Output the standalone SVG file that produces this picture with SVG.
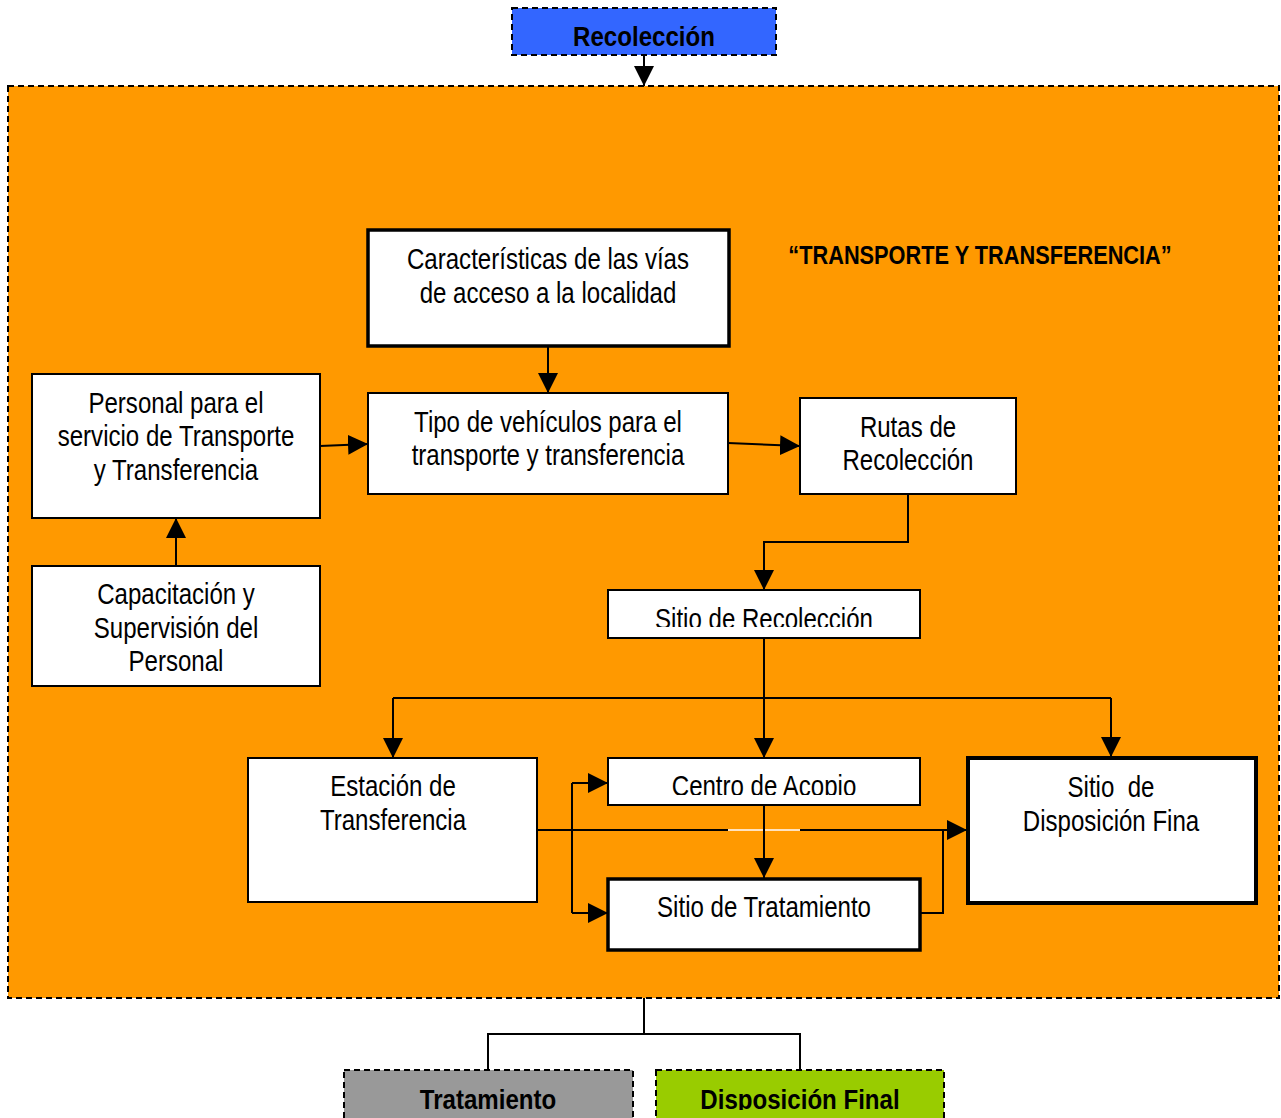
<svg xmlns="http://www.w3.org/2000/svg" width="1281" height="1118" viewBox="0 0 1281 1118">
<style>
.t{font-family:"Liberation Sans",Arial,sans-serif;font-size:29px;fill:#000;text-anchor:middle}
.b{font-family:"Liberation Sans",Arial,sans-serif;font-weight:bold;font-size:28px;fill:#000;text-anchor:middle}
.box{fill:#fff;stroke:#000;stroke-width:2}
.dash{stroke:#000;stroke-width:2;stroke-dasharray:6 4}
.c{fill:none;stroke:#000;stroke-width:2}
</style>
<defs>
<marker id="ah" markerUnits="userSpaceOnUse" markerWidth="20" markerHeight="20" refX="20" refY="10" orient="auto">
<path d="M0,0 L20,10 L0,20 z" fill="#000"/>
</marker>
<clipPath id="clipSR"><rect x="600" y="585" width="330" height="42"/></clipPath>
<clipPath id="clipCA"><rect x="600" y="750" width="330" height="45"/></clipPath>
<clipPath id="clipBot"><rect x="300" y="1060" width="700" height="50"/></clipPath>
</defs>

<g id="recoleccion">
<rect x="512" y="8" width="264" height="47" fill="#3366FF" class="dash"/>
<text class="b" transform="translate(644,46) scale(0.86,1)">Recolección</text>
</g>

<g id="area">
<rect x="8" y="86" width="1271" height="912" fill="#FF9900" class="dash"/>
<text class="b" transform="translate(980,264) scale(0.87,1)" style="font-size:25px">“TRANSPORTE Y TRANSFERENCIA”</text>
</g>

<g id="connectors">
<line class="c" x1="644" y1="55" x2="644" y2="86" marker-end="url(#ah)"/>
<line class="c" x1="548" y1="346" x2="548" y2="393" marker-end="url(#ah)"/>
<line class="c" x1="320" y1="446" x2="368" y2="444" marker-end="url(#ah)"/>
<line class="c" x1="176" y1="566" x2="176" y2="518" marker-end="url(#ah)"/>
<line class="c" x1="728" y1="443" x2="800" y2="446" marker-end="url(#ah)"/>
<polyline class="c" points="908,494 908,542 764,542 764,590" marker-end="url(#ah)"/>
<line class="c" x1="764" y1="638" x2="764" y2="758" marker-end="url(#ah)"/>
<line class="c" x1="393" y1="698" x2="1111" y2="698"/>
<line class="c" x1="393" y1="698" x2="393" y2="758" marker-end="url(#ah)"/>
<line class="c" x1="1111" y1="698" x2="1111" y2="757" marker-end="url(#ah)"/>
<line class="c" x1="537" y1="830" x2="728" y2="830"/>
<line x1="728" y1="830" x2="800" y2="830" stroke="#FFE2BF" stroke-width="2"/>
<line class="c" x1="800" y1="830" x2="967" y2="830" marker-end="url(#ah)"/>
<line class="c" x1="572" y1="783" x2="572" y2="913"/>
<line class="c" x1="572" y1="783" x2="608" y2="783" marker-end="url(#ah)"/>
<line class="c" x1="572" y1="913" x2="608" y2="913" marker-end="url(#ah)"/>
<line class="c" x1="764" y1="805" x2="764" y2="878" marker-end="url(#ah)"/>
<polyline class="c" points="920,913 943,913 943,830"/>
<line class="c" x1="644" y1="998" x2="644" y2="1034"/>
<polyline class="c" points="488,1070 488,1034 800,1034 800,1070"/>
</g>

<g id="caracteristicas">
<rect x="368" y="230" width="361" height="116" class="box" style="stroke-width:3.5"/>
<text class="t" transform="translate(548,269) scale(0.83,1)">Características de las vías</text>
<text class="t" transform="translate(548,303) scale(0.83,1)">de acceso a la localidad</text>
</g>

<g id="tipo">
<rect x="368" y="393" width="360" height="101" class="box"/>
<text class="t" transform="translate(548,432) scale(0.83,1)">Tipo de vehículos para el</text>
<text class="t" transform="translate(548,465) scale(0.83,1)">transporte y transferencia</text>
</g>

<g id="personal">
<rect x="32" y="374" width="288" height="144" class="box"/>
<text class="t" transform="translate(176,413) scale(0.83,1)">Personal para el</text>
<text class="t" transform="translate(176,446) scale(0.83,1)">servicio de Transporte</text>
<text class="t" transform="translate(176,480) scale(0.83,1)">y Transferencia</text>
</g>

<g id="capacitacion">
<rect x="32" y="566" width="288" height="120" class="box"/>
<text class="t" transform="translate(176,604) scale(0.83,1)">Capacitación y</text>
<text class="t" transform="translate(176,638) scale(0.83,1)">Supervisión del</text>
<text class="t" transform="translate(176,671) scale(0.83,1)">Personal</text>
</g>

<g id="rutas">
<rect x="800" y="398" width="216" height="96" class="box"/>
<text class="t" transform="translate(908,437) scale(0.83,1)">Rutas de</text>
<text class="t" transform="translate(908,470) scale(0.83,1)">Recolección</text>
</g>

<g id="sitio-recoleccion">
<rect x="608" y="590" width="312" height="48" class="box"/>
<g clip-path="url(#clipSR)"><text class="t" transform="translate(764,629) scale(0.83,1)">Sitio de Recolección</text></g>
</g>

<g id="estacion">
<rect x="248" y="758" width="289" height="144" class="box"/>
<text class="t" transform="translate(393,796) scale(0.83,1)">Estación de</text>
<text class="t" transform="translate(393,830) scale(0.83,1)">Transferencia</text>
</g>

<g id="centro">
<rect x="608" y="758" width="312" height="47" class="box"/>
<g clip-path="url(#clipCA)"><text class="t" transform="translate(764,796) scale(0.83,1)">Centro de Acopio</text></g>
</g>

<g id="disposicion-sitio">
<rect x="968" y="758" width="288" height="145" class="box" style="stroke-width:4"/>
<text class="t" transform="translate(1111,797) scale(0.83,1)" xml:space="preserve">Sitio  de</text>
<text class="t" transform="translate(1111,831) scale(0.83,1)">Disposición Fina</text>
</g>

<g id="tratamiento-sitio">
<rect x="608" y="879" width="312" height="71" class="box" style="stroke-width:3.5"/>
<text class="t" transform="translate(764,917) scale(0.83,1)">Sitio de Tratamiento</text>
</g>

<g id="tratamiento">
<rect x="344" y="1070" width="289" height="70" fill="#999999" class="dash"/>
<g clip-path="url(#clipBot)"><text class="b" transform="translate(488,1109) scale(0.86,1)">Tratamiento</text></g>
</g>

<g id="disposicion-final">
<rect x="656" y="1070" width="288" height="70" fill="#99CC00" class="dash"/>
<g clip-path="url(#clipBot)"><text class="b" transform="translate(800,1109) scale(0.86,1)">Disposición Final</text></g>
</g>
</svg>
